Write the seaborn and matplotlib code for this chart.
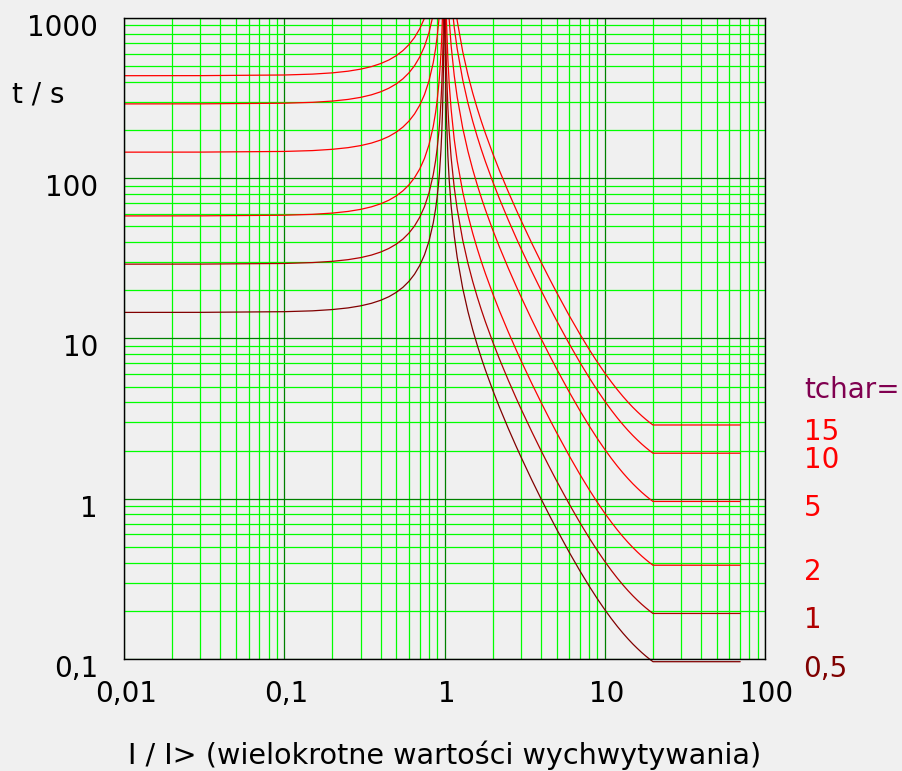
import numpy as np
import pandas as pd
import seaborn as sns
import matplotlib
matplotlib.use('Agg')
import matplotlib.pyplot as plt
from matplotlib.ticker import LogLocator, NullFormatter
from matplotlib.transforms import Bbox, TransformedBbox, ScaledTranslation


# tchar settings and how they are labelled / coloured
tchar_names = ['0,5', '1', '2', '5', '10', '15']
tchar_colors = ['#800000', '#b00000', '#ff0000', '#ff0000', '#ff0000', '#ff0000']

# current as multiple of pickup, below and above 1
x_left = [0.01, 0.03, 0.1, 0.15, 0.2, 0.25, 0.3, 0.35, 0.4, 0.45, 0.5, 0.55, 0.6, 0.65, 0.7, 0.75, 0.8,
          0.85, 0.88, 0.9, 0.92, 0.93, 0.95, 0.96, 0.97, 0.98, 0.985, 0.99, 0.995]
x_right = [1.005, 1.01, 1.02, 1.03, 1.05, 1.07, 1.1, 1.15, 1.2, 1.3, 1.4, 1.5, 1.6, 1.7, 1.8,
           2, 2.2, 2.5, 2.8, 3, 3.5, 4, 4.5, 5, 6, 7, 8, 9, 10, 11, 12, 13, 14, 15, 16, 17, 18, 19, 20, 70]

# reset times (I < 1), seconds
reset_05 = [14.55, 14.56, 14.70, 14.88, 15.16, 15.52, 15.99, 16.58, 17.32, 18.24, 19.40, 20.86, 22.73, 25.19,
            28.53, 33.26, 40.42, 52.43, 64.38, 76.58, 94.73, 107.7, 149.2, 185.6, 246.2, 367.4, 489.9, 731.1, 1459]
reset_1 = [29.10, 29.13, 29.39, 29.77, 30.31, 31.04, 31.98, 33.16, 34.64, 36.49, 38.80, 41.72, 45.47, 50.39,
           57.06, 66.51, 80.83, 104.9, 128.8, 153.2, 189.5, 215.4, 298.4, 371.2, 492.4, 734.8, 979.8, 1462, 2917]
reset_2 = [58.20, 58.25, 58.79, 59.54, 60.63, 62.08, 63.96, 66.32, 69.29, 72.98, 77.60, 83.44, 90.94, 100.8,
           114.1, 133.0, 161.7, 209.7, 257.5, 306.3, 378.9, 430.8, 596.9, 742.3, 984.7, 1470, 1960, 2925, 5835]
reset_5 = [145.5, 145.6, 147.0, 148.8, 151.6, 155.2, 159.9, 165.8, 173.2, 182.4, 194.0, 208.6, 227.3, 251.9,
           285.3, 332.6, 404.2, 524.3, 643.8, 765.8, 947.3, 1077, 1492, 1856, 2462, 3674, 4899, 7311, 14586]
reset_10 = [291.0, 291.3, 293.9, 297.7, 303.1, 310.4, 319.8, 331.6, 346.4, 364.9, 388.0, 417.2, 454.7, 503.9,
            570.6, 665.1, 808.3, 1049, 1288, 1532, 1895, 2154, 2984, 3712, 4924, 7348, 9798, 14623, 29173]
reset_15 = [436.5, 436.9, 440.9, 446.5, 454.7, 465.6, 479.7, 497.4, 519.7, 547.3, 582.0, 625.8, 682.0, 755.8,
            855.9, 997.7, 1212, 1573, 1931, 2297, 2842, 3231, 4477, 5568, 7386, 11022, 14697, 21934, 43759]

# trip times (I > 1), seconds
trip_05 = [1407, 701.5, 349.1, 231.6, 137.6, 97.35, 67.20, 43.78, 32.11, 20.50, 14.75, 11.34, 9.10, 7.52, 6.355,
           4.761, 3.733, 2.747, 2.123, 1.824, 1.314, 1.001, 0.7935, 0.6485, 0.4637, 0.3546, 0.2847, 0.2371,
           0.2033, 0.1784, 0.1595, 0.1448, 0.1332, 0.1238, 0.1162, 0.1098, 0.1045, 0.1000, 0.0962, 0.0962]
trip_1 = [2813, 1403, 698.1, 463.2, 275.2, 194.7, 134.4, 87.56, 64.21, 40.99, 29.50, 22.68, 18.20, 15.04, 12.71,
          9.522, 7.466, 5.493, 4.245, 3.647, 2.628, 2.002, 1.587, 1.297, 0.9274, 0.7092, 0.5693, 0.4742,
          0.4065, 0.3567, 0.3189, 0.2896, 0.2663, 0.2476, 0.2323, 0.2196, 0.2090, 0.2000, 0.1924, 0.1924]
trip_2 = [5626, 2806, 1396, 926.4, 550.4, 389.4, 268.8, 175.1, 128.4, 81.98, 59.00, 45.36, 36.40, 30.08, 25.42,
          19.04, 14.93, 10.99, 8.490, 7.294, 5.256, 4.004, 3.174, 2.594, 1.855, 1.418, 1.139, 0.9484,
          0.8130, 0.7134, 0.6378, 0.5792, 0.5326, 0.4952, 0.4646, 0.4392, 0.4180, 0.4000, 0.3848, 0.3848]
trip_5 = [14065, 7015, 3491, 2316, 1376, 973.5, 672.0, 437.8, 321.1, 205.0, 147.5, 113.4, 91.00, 75.20, 63.55,
          47.61, 37.33, 27.47, 21.23, 18.24, 13.14, 10.01, 7.935, 6.485, 4.637, 3.546, 2.847, 2.371,
          2.033, 1.784, 1.595, 1.448, 1.332, 1.238, 1.162, 1.098, 1.045, 1.000, 0.962, 0.962]
trip_10 = [28130, 14030, 6981, 4632, 2752, 1947, 1344, 875.6, 642.1, 409.9, 295.0, 226.8, 182.0, 150.4, 127.1,
           95.22, 74.66, 54.93, 42.45, 36.47, 26.28, 20.02, 15.87, 12.97, 9.274, 7.092, 5.693, 4.742,
           4.065, 3.567, 3.189, 2.896, 2.663, 2.476, 2.323, 2.196, 2.090, 2.000, 1.924, 1.924]
trip_15 = [42195, 21045, 10472, 6948, 4128, 2921, 2016, 1313, 963.2, 614.9, 442.5, 340.2, 273.0, 225.6, 190.7,
           142.8, 112.0, 82.40, 63.68, 54.71, 39.42, 30.03, 23.81, 19.46, 13.91, 10.64, 8.540, 7.113,
           6.098, 5.351, 4.784, 4.344, 3.995, 3.714, 3.485, 3.294, 3.135, 3.000, 2.886, 2.886]

x_ticks = [0.01, 0.1, 1, 10, 100]
x_tick_labels = ['0,01', '0,1', '1', '10', '100']
y_ticks = [0.1, 1, 10, 100, 1000]
y_tick_labels = ['0,1', '1', '10', '100', '1000']

resets = [reset_05, reset_1, reset_2, reset_5, reset_10, reset_15]
trips = [trip_05, trip_1, trip_2, trip_5, trip_10, trip_15]

rows = []
for name, rs, tr in zip(tchar_names, resets, trips):
    for x, t in zip(x_left + x_right, rs + tr):
        rows.append({'tchar': name, 'I': x, 't': t})
df = pd.DataFrame(rows)

sns.set_style('white')
plt.rcParams['font.family'] = ['DejaVu Sans']
plt.rcParams['figure.facecolor'] = '#f0f0f0'
plt.rcParams['axes.facecolor'] = '#f0f0f0'
plt.rcParams['text.color'] = 'black'
plt.rcParams['axes.labelcolor'] = 'black'
plt.rcParams['xtick.color'] = 'black'
plt.rcParams['ytick.color'] = 'black'

fig = plt.figure(figsize=(9.02, 7.71), dpi=100)
ax = fig.add_axes([124 / 902, 112 / 771, 641 / 902, 641 / 771])
ax.set_xscale('log')
ax.set_yscale('log')

palette = dict(zip(tchar_names, tchar_colors))
sns.lineplot(data=df, x='I', y='t', hue='tchar', palette=palette, estimator=None,
             sort=False, legend=False, lw=0.9, ax=ax)

ax.set_xlim(0.01, 100)
ax.set_ylim(0.1, 1000)

# grid: dark green decades, bright green subdivisions
ax.xaxis.set_minor_locator(LogLocator(base=10, subs=np.arange(2, 10)))
ax.yaxis.set_minor_locator(LogLocator(base=10, subs=np.arange(2, 10)))
ax.xaxis.set_minor_formatter(NullFormatter())
ax.yaxis.set_minor_formatter(NullFormatter())
ax.grid(True, which='minor', color='#00ff00', lw=0.9)
ax.grid(True, which='major', color='#008000', lw=0.9)
ax.set_axisbelow(True)

ax.set_xticks(x_ticks, x_tick_labels, fontsize=20)
ax.set_yticks(y_ticks, y_tick_labels, fontsize=20)
ax.tick_params(which='both', length=0)
ax.tick_params(axis='y', pad=18.7)
ax.tick_params(axis='x', pad=15)
for lab in ax.get_yticklabels():
    lab.set_transform(lab.get_transform() + ScaledTranslation(0, -0.07, fig.dpi_scale_trans))
for lab in ax.get_xticklabels():
    lab.set_transform(lab.get_transform() + ScaledTranslation(0.02, 0, fig.dpi_scale_trans))

for sp in ax.spines.values():
    sp.set_color('black')
    sp.set_linewidth(1)

# lowest flat line sits just under the axis, let it show
clip = TransformedBbox(Bbox([[0, -0.01], [1, 1]]), ax.transAxes)
for line in ax.lines:
    line.set_clip_box(clip)

ax.set_xlabel('I / I> (wielokrotne wartości wychwytywania)', fontsize=20.6, va='center')
ax.xaxis.set_label_coords(0.5, (659 - 755) / 641)
ax.set_ylabel('t / s', fontsize=20, rotation=0, ha='left', va='center')
ax.yaxis.set_label_coords((12 - 124) / 641, (659 - 95) / 641)

ax.text((804 - 124) / 641, (659 - 390) / 641, 'tchar=', transform=ax.transAxes,
        fontsize=20, color='#800050', ha='left', va='center')
for name, col, tr in zip(tchar_names, tchar_colors, trips):
    ax.annotate(name, xy=(x_right[-1], tr[-1]), xytext=(45.6, -5), textcoords='offset points',
                fontsize=20, color=col, ha='left', va='center', annotation_clip=False)

fig.savefig('out.png', dpi=100, facecolor=fig.get_facecolor())
